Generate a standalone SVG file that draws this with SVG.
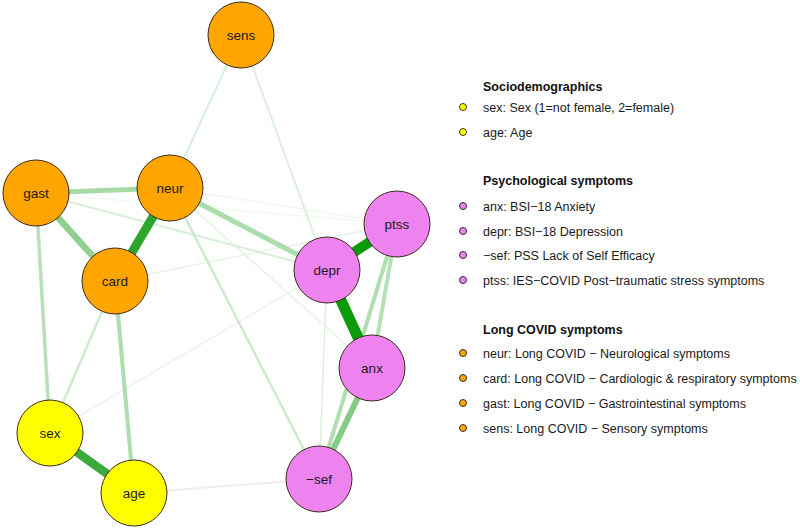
<svg xmlns="http://www.w3.org/2000/svg" width="800" height="529" viewBox="0 0 800 529">
<style>
.e{fill:none;stroke-linecap:butt}
.n circle{stroke:#3a2a1a;stroke-width:1}
.n text{font-family:"Liberation Sans",Arial,sans-serif;font-size:13.5px;fill:#1a1a1a;text-anchor:middle;dominant-baseline:central}
.lt{font-family:"Liberation Sans",Arial,sans-serif;font-size:12.5px;fill:#1a1a1a}
.lh{font-family:"Liberation Sans",Arial,sans-serif;font-size:12.5px;font-weight:bold;fill:#111}
.d{stroke:#333;stroke-width:1}
.or{fill:#FFA500}.ye{fill:#FFFF00}.vi{fill:#EE82EE}
</style>
<rect width="800" height="529" fill="#fff"/>
<g id="edges">
<line class="e" x1="36" y1="193" x2="397" y2="224" stroke="#f1f9f1" stroke-width="1.5"/>
<line class="e" x1="170" y1="188" x2="397" y2="224" stroke="#eef8ee" stroke-width="1.5"/>
<line class="e" x1="50" y1="433" x2="327" y2="270" stroke="#f6eeee" stroke-width="1.5"/>
<line class="e" x1="134" y1="493" x2="319" y2="479" stroke="#f3ebeb" stroke-width="2"/>
<line class="e" x1="115" y1="281" x2="397" y2="224" stroke="#e6f4e6" stroke-width="1.5"/>
<line class="e" x1="170" y1="188" x2="372" y2="368" stroke="#e3f3e3" stroke-width="1.5"/>
<line class="e" x1="327" y1="270" x2="319" y2="479" stroke="#dcf0dc" stroke-width="1.5"/>
<line class="e" x1="36" y1="193" x2="327" y2="270" stroke="#d6eed6" stroke-width="2"/>
<line class="e" x1="241" y1="35" x2="170" y2="188" stroke="#d8efd8" stroke-width="2"/>
<line class="e" x1="241" y1="35" x2="327" y2="270" stroke="#dcf0dc" stroke-width="2"/>
<line class="e" x1="170" y1="188" x2="319" y2="479" stroke="#cdeacd" stroke-width="2.5"/>
<line class="e" x1="115" y1="281" x2="50" y2="433" stroke="#cfebcf" stroke-width="2.5"/>
<line class="e" x1="36" y1="193" x2="50" y2="433" stroke="#b8e1b8" stroke-width="3.5"/>
<line class="e" x1="115" y1="281" x2="134" y2="493" stroke="#aedcae" stroke-width="4"/>
<line class="e" x1="397" y1="224" x2="372" y2="368" stroke="#b5e0b5" stroke-width="4"/>
<line class="e" x1="397" y1="224" x2="319" y2="479" stroke="#b0deb0" stroke-width="4"/>
<line class="e" x1="36" y1="193" x2="170" y2="188" stroke="#a8daa8" stroke-width="5"/>
<line class="e" x1="170" y1="188" x2="327" y2="270" stroke="#abdcab" stroke-width="5"/>
<line class="e" x1="36" y1="193" x2="115" y2="281" stroke="#8fd08f" stroke-width="6.5"/>
<line class="e" x1="372" y1="368" x2="319" y2="479" stroke="#84cc84" stroke-width="6"/>
<line class="e" x1="170" y1="188" x2="115" y2="281" stroke="#2ea52e" stroke-width="9"/>
<line class="e" x1="50" y1="433" x2="134" y2="493" stroke="#3aaa3a" stroke-width="8.5"/>
<line class="e" x1="327" y1="270" x2="397" y2="224" stroke="#0a9a0a" stroke-width="10"/>
<line class="e" x1="327" y1="270" x2="372" y2="368" stroke="#0a9a0a" stroke-width="11"/>
</g>
<g id="sens" class="n"><circle class="or" cx="241" cy="35" r="33"/><text x="241" y="35">sens</text></g>
<g id="gast" class="n"><circle class="or" cx="36" cy="193" r="33"/><text x="36" y="193">gast</text></g>
<g id="neur" class="n"><circle class="or" cx="170" cy="188" r="33"/><text x="170" y="188">neur</text></g>
<g id="card" class="n"><circle class="or" cx="115" cy="281" r="33"/><text x="115" y="281">card</text></g>
<g id="ptss" class="n"><circle class="vi" cx="397" cy="224" r="33"/><text x="397" y="224">ptss</text></g>
<g id="depr" class="n"><circle class="vi" cx="327" cy="270" r="33"/><text x="327" y="270">depr</text></g>
<g id="anx" class="n"><circle class="vi" cx="372" cy="368" r="33"/><text x="372" y="368">anx</text></g>
<g id="sef" class="n"><circle class="vi" cx="319" cy="479" r="33"/><text x="319" y="479">−sef</text></g>
<g id="sex" class="n"><circle class="ye" cx="50" cy="433" r="33"/><text x="50" y="433">sex</text></g>
<g id="age" class="n"><circle class="ye" cx="134" cy="493" r="33"/><text x="134" y="493">age</text></g>
<g id="legend">
<text class="lh" x="483" y="91">Sociodemographics</text>
<circle class="d ye" cx="463" cy="107" r="3.5"/><text class="lt" x="483" y="111.5">sex: Sex (1=not female, 2=female)</text>
<circle class="d ye" cx="463" cy="132" r="3.5"/><text class="lt" x="483" y="136.5">age: Age</text>
<text class="lh" x="483" y="185">Psychological symptoms</text>
<circle class="d vi" cx="463" cy="206" r="3.5"/><text class="lt" x="483" y="210.5">anx: BSI−18 Anxiety</text>
<circle class="d vi" cx="463" cy="231" r="3.5"/><text class="lt" x="483" y="235.5">depr: BSI−18 Depression</text>
<circle class="d vi" cx="463" cy="255" r="3.5"/><text class="lt" x="483" y="259.5">−sef: PSS Lack of Self Efficacy</text>
<circle class="d vi" cx="463" cy="280" r="3.5"/><text class="lt" x="483" y="284.5">ptss: IES−COVID Post−traumatic stress symptoms</text>
<text class="lh" x="483" y="333.5">Long COVID symptoms</text>
<circle class="d or" cx="463" cy="353" r="3.5"/><text class="lt" x="483" y="357.5">neur: Long COVID − Neurological symptoms</text>
<circle class="d or" cx="463" cy="378" r="3.5"/><text class="lt" x="483" y="382.5">card: Long COVID − Cardiologic &amp; respiratory symptoms</text>
<circle class="d or" cx="463" cy="403" r="3.5"/><text class="lt" x="483" y="407.5">gast: Long COVID − Gastrointestinal symptoms</text>
<circle class="d or" cx="463" cy="428" r="3.5"/><text class="lt" x="483" y="432.5">sens: Long COVID − Sensory symptoms</text>
</g>
</svg>
